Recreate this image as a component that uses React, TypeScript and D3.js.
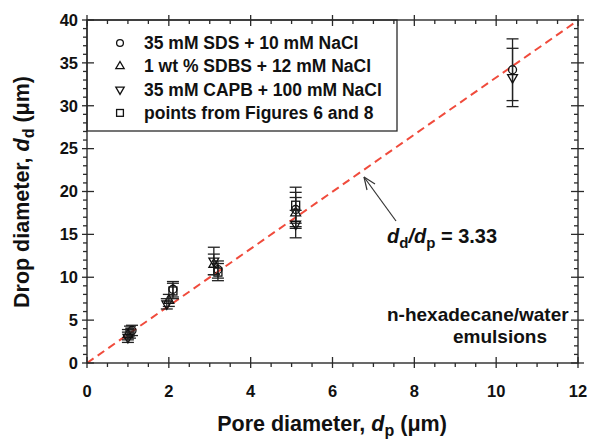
import React from "react";
import * as d3 from "d3";

const xTicks = [0, 2, 4, 6, 8, 10, 12];
const yTicks = [0, 5, 10, 15, 20, 25, 30, 35, 40];

const legendLabels = [
  "35 mM SDS + 10 mM NaCl",
  "1 wt % SDBS + 12 mM NaCl",
  "35 mM CAPB + 100 mM NaCl",
  "points from Figures 6 and 8",
];

const sdsX = [1.1, 2.1, 3.2, 5.1, 10.4];
const sdsY = [3.8, 8.6, 10.9, 17.9, 34.2];
const sdsErr = [0.6, 0.9, 1.0, 2.0, 3.6];

const sdbsX = [1.0, 2.0, 3.1, 5.1];
const sdbsY = [3.3, 7.3, 11.5, 17.5];
const sdbsErr = [0.6, 0.7, 1.2, 1.8];

const capbX = [1.0, 1.95, 3.1, 5.1, 10.4];
const capbY = [3.0, 6.9, 11.9, 16.2, 33.3];
const capbErr = [0.6, 0.6, 1.6, 1.6, 3.4];

const sqX = [1.05, 2.1, 3.2, 5.1];
const sqY = [3.6, 8.4, 10.6, 18.4];
const sqErr = [0.7, 0.9, 1.0, 2.1];

const ratio = 3.33;

const FONT = "'Liberation Sans', Arial, sans-serif";

type Shape = "circle" | "up" | "down" | "square";

function Marker({ shape, cx, cy, s = 1 }: { shape: Shape; cx: number; cy: number; s?: number }) {
  const st = { fill: "none", stroke: "#111", strokeWidth: 1.3 };
  if (shape === "circle") return <circle cx={cx} cy={cy} r={4 * s} {...st} />;
  if (shape === "square") return <rect x={cx - 4 * s} y={cy - 4 * s} width={8 * s} height={8 * s} {...st} />;
  const p = d3.symbol().type(d3.symbolTriangle).size(42 * s * s)()!;
  return (
    <path d={p} transform={`translate(${cx},${cy}) rotate(${shape === "down" ? 180 : 0})`} {...st} />
  );
}

export default function App() {
  const x = d3.scaleLinear().domain([0, 12]).range([87, 578]);
  const y = d3.scaleLinear().domain([0, 40]).range([363, 20]);
  const [x0, x1] = x.range();
  const [y0, y1] = y.range();

  const xMinor = d3.range(0, 12.001, 0.5);
  const yMinor = d3.range(0, 40.001, 1);

  const series: { shape: Shape; xs: number[]; ys: number[]; es: number[] }[] = [
    { shape: "square", xs: sqX, ys: sqY, es: sqErr },
    { shape: "up", xs: sdbsX, ys: sdbsY, es: sdbsErr },
    { shape: "circle", xs: sdsX, ys: sdsY, es: sdsErr },
    { shape: "down", xs: capbX, ys: capbY, es: capbErr },
  ];
  const legendShapes: Shape[] = ["circle", "up", "down", "square"];

  const axisColor = "#2a2a2a";
  const tickStyle = { stroke: axisColor, strokeWidth: 1.3 };

  return (
    <svg
      width={590}
      height={440}
      style={{ position: "absolute", left: 0, top: 0, background: "#fff" }}
      fontFamily={FONT}
    >
      {/* fit line */}
      <line
        x1={x(0)}
        y1={y(0)}
        x2={x(12)}
        y2={y(12 * ratio)}
        stroke="#f04b3c"
        strokeWidth={2}
        strokeDasharray="8,5"
      />

      {/* legend box */}
      <rect x={x0} y={y1} width={397 - x0} height={131 - y1} fill="#fff" stroke={axisColor} strokeWidth={1.3} />
      {legendLabels.map((lab, i) => (
        <g key={lab}>
          <Marker shape={legendShapes[i]} cx={120} cy={43 + i * 23.3} s={0.85} />
          <text x={144} y={43 + i * 23.3} dy="0.35em" fontSize={17.5} fontWeight="bold" fill="#111">
            {lab}
          </text>
        </g>
      ))}

      {/* error bars and markers */}
      {series.map((s) =>
        s.xs.map((xv, i) => {
          const cx = x(xv);
          const top = y(s.ys[i] + s.es[i]);
          const bot = y(s.ys[i] - s.es[i]);
          return (
            <g key={s.shape + i}>
              <line x1={cx} x2={cx} y1={top} y2={bot} stroke="#222" strokeWidth={1.3} />
              <line x1={cx - 6} x2={cx + 6} y1={top} y2={top} stroke="#222" strokeWidth={1.3} />
              <line x1={cx - 6} x2={cx + 6} y1={bot} y2={bot} stroke="#222" strokeWidth={1.3} />
              <Marker shape={s.shape} cx={cx} cy={y(s.ys[i])} />
            </g>
          );
        })
      )}

      {/* frame */}
      <rect x={x0} y={y1} width={x1 - x0} height={y0 - y1} fill="none" stroke={axisColor} strokeWidth={1.4} />

      {/* x ticks */}
      {xMinor.map((v) => {
        const major = Math.abs(v / 2 - Math.round(v / 2)) < 1e-6;
        const px = x(v);
        return (
          <g key={"x" + v}>
            <line x1={px} x2={px} y1={major ? y0 - 6 : y0} y2={y0 + (major ? 5 : 4)} {...tickStyle} />
            <line x1={px} x2={px} y1={major ? y1 - 5 : y1} y2={y1 + (major ? 6 : 4)} {...tickStyle} />
          </g>
        );
      })}
      {/* y ticks */}
      {yMinor.map((v) => {
        const major = v % 5 === 0;
        const py = y(v);
        return (
          <g key={"y" + v}>
            <line y1={py} y2={py} x1={x0 - (major ? 5 : 4)} x2={major ? x0 + 7 : x0} {...tickStyle} />
            <line y1={py} y2={py} x1={major ? x1 - 7 : x1 - 4} x2={x1 + (major ? 6 : 0)} {...tickStyle} />
          </g>
        );
      })}

      {xTicks.map((v) => (
        <text key={"xl" + v} x={x(v)} y={391} dy="0.35em" textAnchor="middle" fontSize={16.5} fontWeight="bold" fill="#111">
          {v}
        </text>
      ))}
      {yTicks.map((v) => (
        <text key={"yl" + v} x={78} y={y(v)} dy="0.35em" textAnchor="end" fontSize={16.5} fontWeight="bold" fill="#111">
          {v}
        </text>
      ))}

      {/* axis titles */}
      <text x={332} y={431} textAnchor="middle" fontSize={21.5} fontWeight="bold" fill="#111">
        Pore diameter,{" "}
        <tspan fontStyle="italic">d</tspan>
        <tspan fontSize={16} dy={5}>p</tspan>
        <tspan dy={-5}> (μm)</tspan>
      </text>
      <text
        transform="translate(29,192) rotate(-90)"
        textAnchor="middle"
        fontSize={21.5}
        fontWeight="bold"
        fill="#111"
      >
        Drop diameter,{" "}
        <tspan fontStyle="italic">d</tspan>
        <tspan fontSize={16} dy={5}>d</tspan>
        <tspan dy={-5}> (μm)</tspan>
      </text>

      {/* annotation */}
      <g stroke="#333" strokeWidth={1.2} fill="none">
        <line x1={396} y1={221} x2={364} y2={177} />
        <line x1={364} y1={177} x2={367} y2={190} />
        <line x1={364} y1={177} x2={375} y2={184} />
      </g>
      <text x={387} y={243} fontSize={20} fontWeight="bold" fill="#111">
        <tspan fontStyle="italic">d</tspan>
        <tspan fontSize={15} dy={5}>d</tspan>
        <tspan dy={-5} fontStyle="italic">/d</tspan>
        <tspan fontSize={15} dy={5}>p</tspan>
        <tspan dy={-5}> = 3.33</tspan>
      </text>

      <text x={387} y={321} fontSize={19} fontWeight="bold" fill="#111">
        n-hexadecane/water
      </text>
      <text x={500} y={343} textAnchor="middle" fontSize={19} fontWeight="bold" fill="#111">
        emulsions
      </text>
    </svg>
  );
}
